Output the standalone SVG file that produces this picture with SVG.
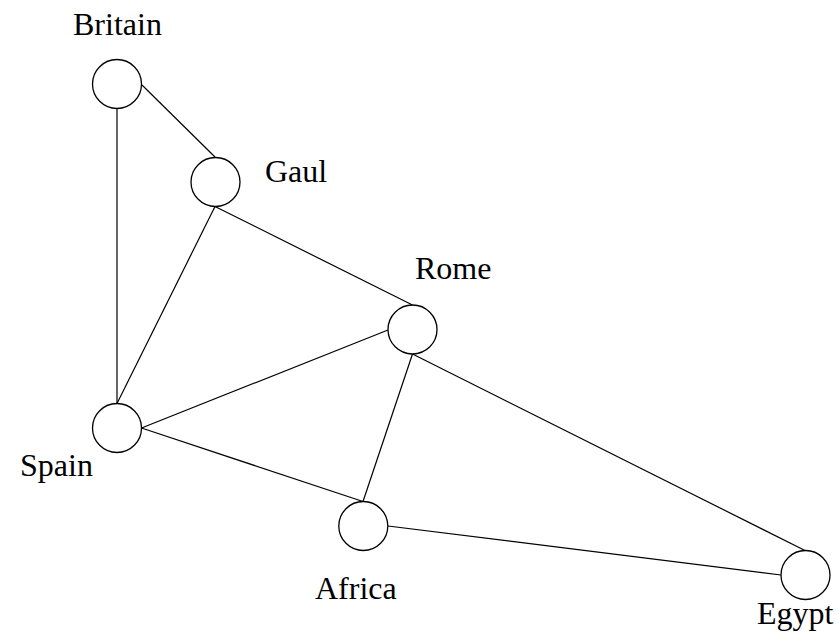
<svg xmlns="http://www.w3.org/2000/svg" width="839" height="635" viewBox="0 0 839 635">
<style>
.n{fill:#fff;stroke:#000;stroke-width:1.3}
.e{stroke:#000;stroke-width:1.2;fill:none}
text{font-family:"Liberation Serif","Times New Roman",serif;font-size:32px;fill:#000}
</style>
<rect width="839" height="635" fill="#fff"/>
<g id="edges">
<line class="e" x1="142" y1="85" x2="215" y2="157"/>
<line class="e" x1="117" y1="108.5" x2="117" y2="403.5"/>
<line class="e" x1="215" y1="206.5" x2="117" y2="403.5"/>
<line class="e" x1="215" y1="206.5" x2="412.5" y2="305"/>
<line class="e" x1="388" y1="330" x2="141.5" y2="428"/>
<line class="e" x1="141.5" y1="428" x2="363" y2="501.5"/>
<line class="e" x1="412.5" y1="354" x2="363" y2="501.5"/>
<line class="e" x1="412.5" y1="354" x2="805" y2="550.5"/>
<line class="e" x1="388" y1="526" x2="781" y2="575"/>
</g>
<g id="Britain"><circle class="n" cx="117" cy="84" r="24.5"/><text x="73" y="35">Britain</text></g>
<g id="Gaul"><circle class="n" cx="215.5" cy="182" r="24.5"/><text x="265" y="182">Gaul</text></g>
<g id="Rome"><circle class="n" cx="412.5" cy="329.5" r="24.5"/><text x="415" y="279">Rome</text></g>
<g id="Spain"><circle class="n" cx="117" cy="428" r="24.5"/><text x="20" y="476">Spain</text></g>
<g id="Africa"><circle class="n" cx="363.3" cy="526" r="24.5"/><text x="315" y="599">Africa</text></g>
<g id="Egypt"><circle class="n" cx="805.5" cy="575" r="24.5"/><text x="757" y="624">Egypt</text></g>
</svg>
